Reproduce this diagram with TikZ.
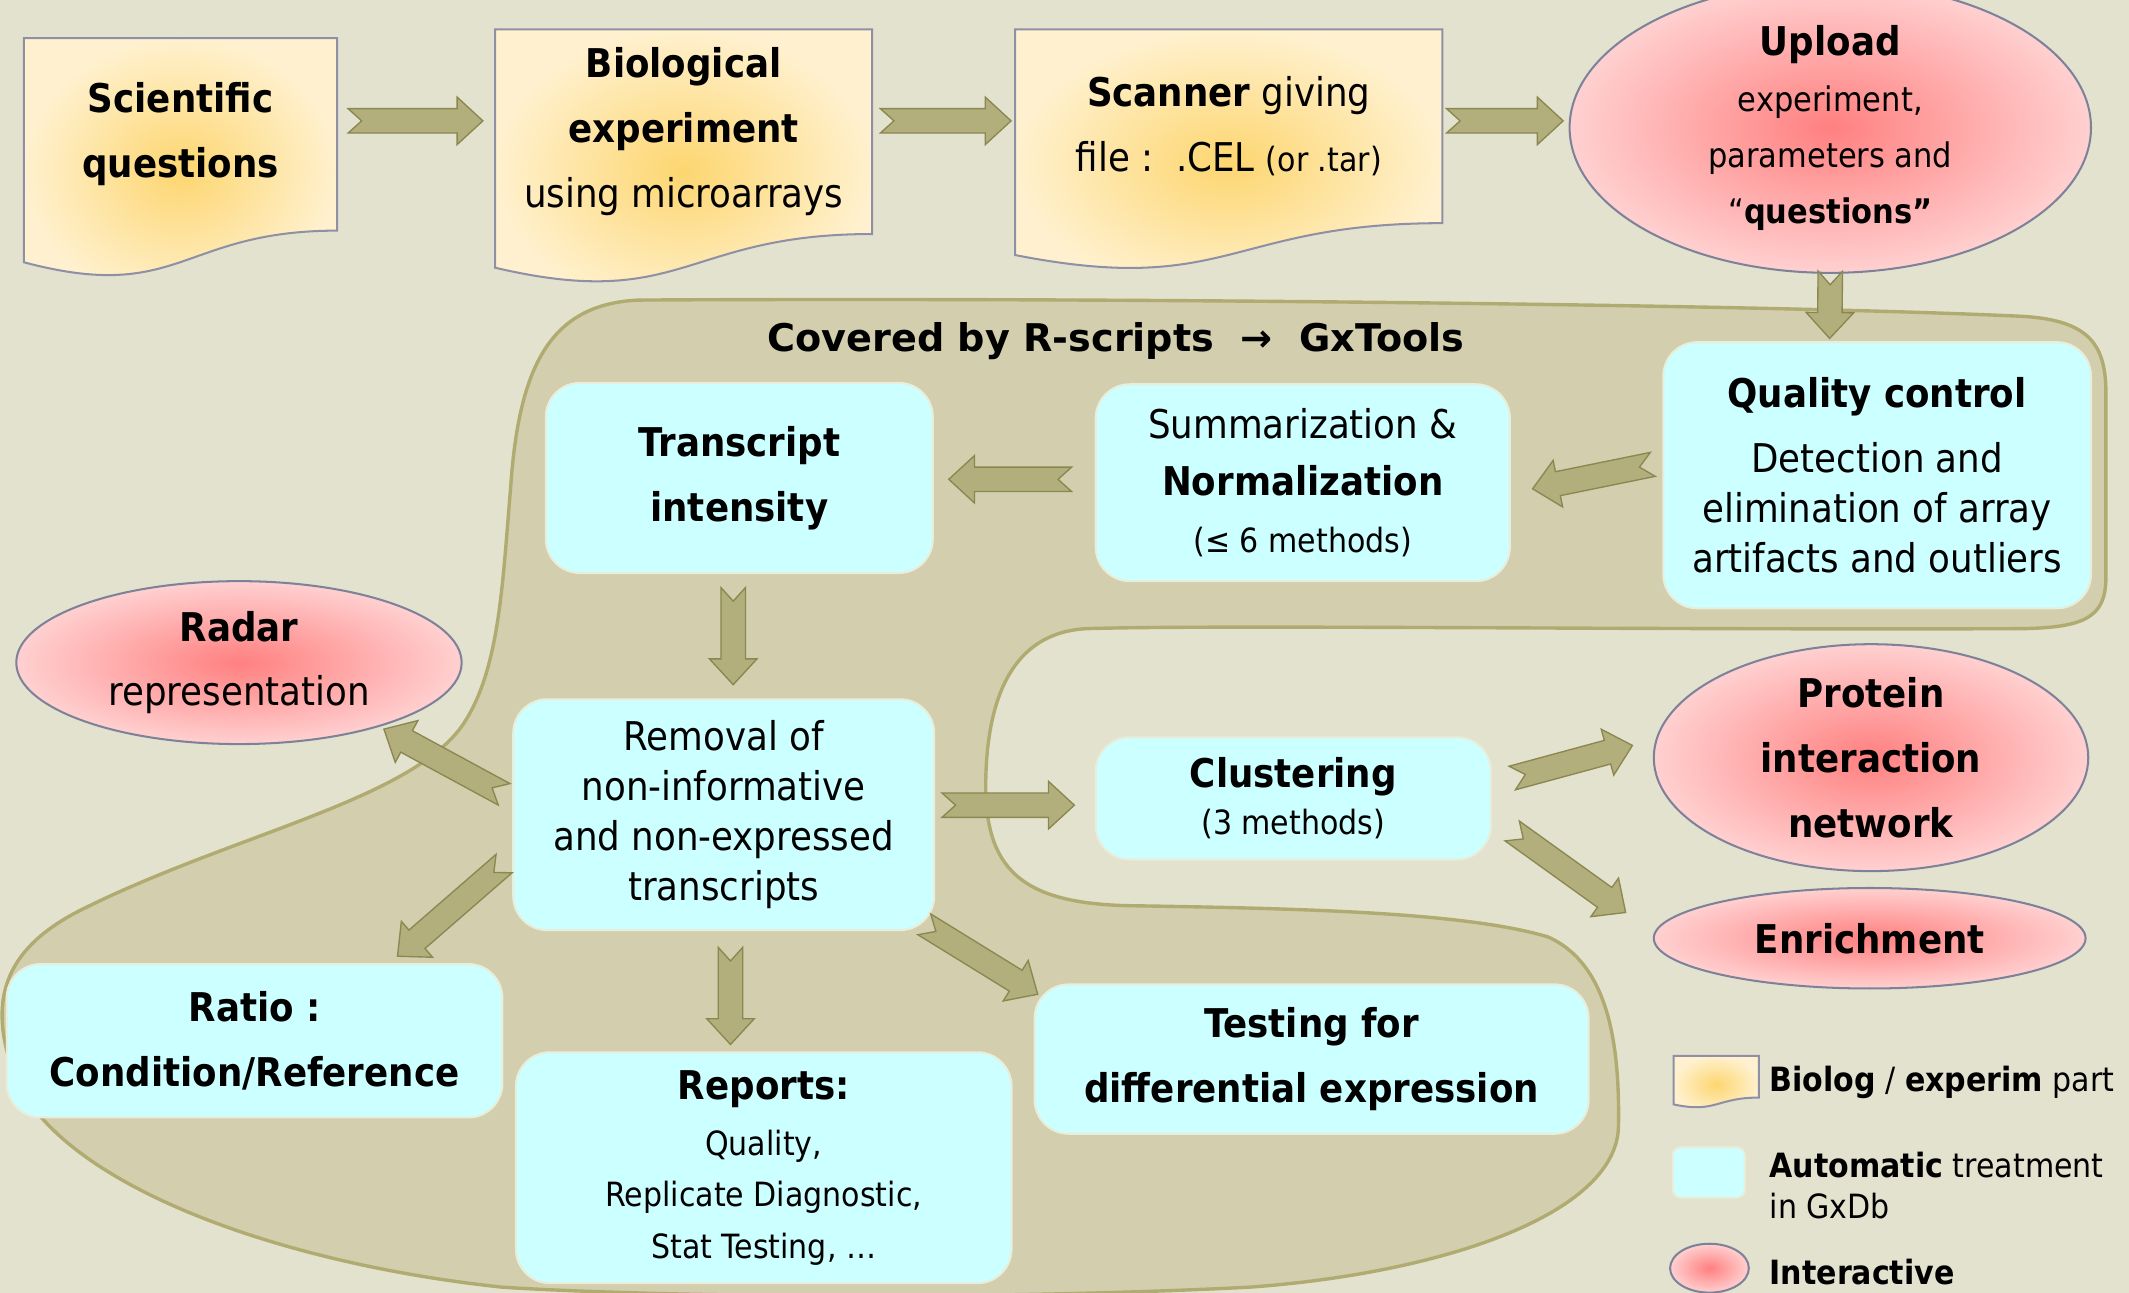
\documentclass[tikz,border=0pt]{standalone}
\usepackage{fontspec}
\setmainfont{DejaVu Sans Condensed}
\newfontfamily\titlefont{DejaVu Sans}
\usepackage{tikz}
\usetikzlibrary{positioning, shapes.geometric, calc}
\definecolor{gxBack}{RGB}{227,226,207}
\definecolor{gxBlob}{RGB}{210,206,174}
\definecolor{gxBlobEdge}{RGB}{176,171,112}
\definecolor{gxCyan}{RGB}{204,255,255}
\definecolor{gxCyanEdge}{RGB}{232,238,220}
\definecolor{gxArrow}{RGB}{178,175,124}
\definecolor{gxArrowEdge}{RGB}{138,136,80}
\definecolor{gxDocEdge}{RGB}{143,144,163}
\definecolor{gxYellow}{RGB}{253,214,112}
\definecolor{gxPale}{RGB}{255,241,207}
\definecolor{gxPink}{RGB}{255,128,128}
\definecolor{gxRose}{RGB}{255,208,208}
\definecolor{gxEllEdge}{RGB}{125,130,153}
\def\uu{0.2mm}
\pgfdeclarelayer{back}
\pgfdeclarelayer{shape}
\pgfsetlayers{back,shape,main}
\tikzset{
    base/.style={
        font=\fontsize{16.6}{27.2}\selectfont,
        align=center,
        inner sep=0pt,
        text=black
    },
    docnode/.style={
        base
    },
    docshape/.style={
        draw=gxDocEdge,
        line width=0.3mm,
        inner color=gxYellow,
        outer color=gxPale
    },
    autobox/.style={
        base,
        rectangle,
        rounded corners=5mm,
        fill=gxCyan,
        draw=gxCyanEdge,
        line width=0.3mm
    },
    interact/.style={
        base,
        ellipse,
        draw=gxEllEdge,
        line width=0.3mm,
        inner color=gxPink,
        outer color=gxRose
    },
    flow/.style={
        draw=gxArrowEdge,
        fill=gxArrow,
        line width=0.2mm,
        line join=miter
    },
    blob/.style={
        fill=gxBlob,
        draw=gxBlobEdge,
        line width=0.5mm
    },
    legend/.style={
        font=\fontsize{14}{17}\selectfont,
        align=left,
        anchor=west,
        inner sep=0pt
    }
}
% notched block arrow from #1 to #2
\newcommand{\fatarrow}[2]{%
  \coordinate (fa-a) at (#1);
  \coordinate (fa-b) at (#2);
  \coordinate (fa-n) at ($(fa-b)!19*\uu!(fa-a)$);
  \coordinate (fa-m) at ($(fa-a)!10*\uu!(fa-b)$);
  \draw[flow] ($(fa-a)!9*\uu!90:(fa-b)$) -- (fa-m) -- ($(fa-a)!9*\uu!-90:(fa-b)$)
    -- ($(fa-n)!9*\uu!-90:(fa-b)$) -- ($(fa-n)!17.5*\uu!-90:(fa-b)$) -- (fa-b)
    -- ($(fa-n)!17.5*\uu!90:(fa-b)$) -- ($(fa-n)!9*\uu!90:(fa-b)$) -- cycle;
}
% wavy document outline under a node
\newcommand{\docoutline}[1]{%
  \path[docshape] let \p1=(#1.north), \p2=(#1.south), \n1={\y1-\y2} in
    (#1.north west) -- (#1.north east) -- (#1.south east)
    .. controls (#1.south) and ([yshift=-0.381*\n1]#1.south)
    .. ([yshift=-0.1646*\n1]#1.south west) -- cycle;
}
\begin{document}
\begin{tikzpicture}[x=0.2mm, y=-0.2mm]
  \useasboundingbox (0,0) rectangle (1568,952);

  % Background and R-scripts area
  \begin{pgfonlayer}{back}
    \fill[gxBack] (0,0) rectangle (1568,952);
    \begin{scope}
      \clip (0,0) rectangle (1568,952);
      \path[blob] (470,221)
        .. controls (800,219) and (1300,224) .. (1490,233)
        .. controls (1540,236) and (1551,255) .. (1551,290)
        -- (1551,425)
        .. controls (1551,455) and (1535,462) .. (1490,463)
        .. controls (1200,464) and (900,460) .. (800,463)
        .. controls (745,466) and (727,515) .. (726,575)
        .. controls (725,640) and (752,665) .. (830,667)
        .. controls (960,669) and (1080,672) .. (1140,690)
        .. controls (1185,710) and (1193,770) .. (1192,830)
        .. controls (1190,895) and (1060,938) .. (920,948)
        .. controls (720,958) and (480,955) .. (370,948)
        .. controls (200,930) and (40,870) .. (10,790)
        .. controls (-8,740) and (0,700) .. (60,670)
        .. controls (170,615) and (300,590) .. (340,535)
        .. controls (368,495) and (370,430) .. (376,360)
        .. controls (382,270) and (405,224) .. (470,221) -- cycle;
    \end{scope}
  \end{pgfonlayer}

  % Biological part
  \node[docnode, minimum width=230*\uu, minimum height=141*\uu] (sci) at (133,99)
    {\textbf{Scientific}\\\textbf{questions}};
  \node[docnode, minimum width=277*\uu, minimum height=150*\uu] (bio) at (503.5,97)
    {\textbf{Biological}\\\textbf{experiment}\\using microarrays};
  \node[docnode, minimum width=314*\uu, minimum height=142*\uu] (scan) at (905,93)
    {\textbf{Scanner} giving\\file :~~.CEL {\fontsize{14}{27}\selectfont(or .tar)}};
  \node[interact, minimum width=384*\uu, minimum height=172*\uu,
        font=\fontsize{14.2}{23.5}\selectfont] (upload) at (1348,94)
    {{\fontsize{16.6}{23.5}\selectfont\textbf{Upload}}\\experiment,\\parameters and\\“\textbf{questions”}};

  \begin{pgfonlayer}{shape}
    \docoutline{sci}
    \docoutline{bio}
    \docoutline{scan}
  \end{pgfonlayer}

  % Automatic part
  \node[font={\titlefont\fontsize{16}{19}\selectfont\bfseries}] (covered) at (822,251)
    {Covered by R-scripts~~→~~GxTools};
  \node[autobox, minimum width=315*\uu, minimum height=196*\uu,
        font=\fontsize{16.6}{21}\selectfont] (qc) at (1382.5,350)
    {\textbf{Quality control}\\[6pt]Detection and\\elimination of array\\artifacts and outliers};
  \node[autobox, minimum width=305*\uu, minimum height=145*\uu,
        font=\fontsize{16.6}{24}\selectfont] (sum) at (959.5,355.5)
    {Summarization \&\\\textbf{Normalization}\\{\fontsize{14}{24}\selectfont(≤ 6 methods)}};
  \node[autobox, minimum width=285*\uu, minimum height=140*\uu] (trans) at (544.5,352)
    {\textbf{Transcript}\\\textbf{intensity}};
  \node[autobox, minimum width=310*\uu, minimum height=170*\uu,
        font=\fontsize{16.6}{21}\selectfont] (removal) at (533,600)
    {Removal of\\non-informative\\and non-expressed\\transcripts};
  \node[autobox, minimum width=365*\uu, minimum height=113*\uu] (ratio) at (187.5,766.5)
    {\textbf{Ratio :}\\\textbf{Condition/Reference}};
  \node[autobox, minimum width=365*\uu, minimum height=170*\uu,
        font=\fontsize{14}{21.5}\selectfont] (reports) at (562.5,860)
    {{\fontsize{16.6}{21.5}\selectfont\textbf{Reports:}}\\[2pt]Quality,\\Replicate Diagnostic,\\Stat Testing, …};
  \node[autobox, minimum width=408*\uu, minimum height=110*\uu] (testing) at (966,780)
    {\textbf{Testing for}\\\textbf{differential expression}};
  \node[autobox, minimum width=291*\uu, minimum height=90*\uu,
        font=\fontsize{16.6}{19.8}\selectfont] (clust) at (952.5,588)
    {\textbf{Clustering}\\{\fontsize{14}{19.8}\selectfont(3 methods)}};

  % Interactive part
  \node[interact, minimum width=328*\uu, minimum height=120*\uu] (radar) at (176,488)
    {\textbf{Radar}\\representation};
  \node[interact, minimum width=320*\uu, minimum height=152*\uu] (protein) at (1378,558)
    {\textbf{Protein}\\\textbf{interaction}\\\textbf{network}};
  \node[interact, minimum width=318*\uu, minimum height=74*\uu] (enrich) at (1377,691)
    {\textbf{Enrichment}};

  % Arrows
  \fatarrow{$(sci.east)+(8,-10)$}{$(bio.west)+(-9,-8)$}
  \fatarrow{$(bio.east)+(6,-8)$}{$(scan.west)+(-3,-4)$}
  \fatarrow{$(scan.east)+(3,-4)$}{$(upload.west)+(-4,-5)$}
  \fatarrow{$(upload.south)+(0,-2)$}{$(qc.north)+(-35,-2)$}
  \fatarrow{$(qc.west)+(-7,-8)$}{$(sum.east)+(16,4.5)$}
  \fatarrow{$(sum.west)+(-17,-2.5)$}{$(trans.east)+(11,1)$}
  \fatarrow{$(trans.south)+(-4.5,10)$}{$(removal.north)+(7,-10)$}
  \fatarrow{$(removal.west)+(-6,-15)$}{$(radar.east)+(-58,49)$}
  \fatarrow{$(removal.west)+(-6,36)$}{$(ratio.north east)+(-78,-5)$}
  \fatarrow{$(removal.south)+(5,12)$}{$(reports.north)+(-24.5,-5)$}
  \fatarrow{$(removal.south east)+(-8,-5)$}{$(testing.north west)+(3,8)$}
  \fatarrow{$(removal.east)+(5,-7)$}{$(clust.west)+(-15,5)$}
  \fatarrow{$(clust.east)+(15,-15)$}{$(protein.west)+(-15,-9)$}
  \fatarrow{$(clust.east)+(15,24)$}{$(enrich.west)+(-20,-19)$}

  % Legend
  \node[docnode, minimum width=62*\uu, minimum height=30*\uu] (legdoc) at (1264,793) {};
  \begin{pgfonlayer}{shape}
    \docoutline{legdoc}
  \end{pgfonlayer}
  \node[autobox, rounded corners=1.2mm, minimum width=53*\uu, minimum height=37*\uu] (legauto) at (1258.5,863.5) {};
  \node[interact, minimum width=58*\uu, minimum height=36*\uu] (legint) at (1259,934) {};
  \node[legend] (legdoctxt) at (1303,797) {\textbf{Biolog} / \textbf{experim} part};
  \node[legend] (legautotxt) at (1303,873) {\textbf{Automatic} treatment\\in GxDb};
  \node[legend] (leginttxt) at (1303,937) {\textbf{Interactive}};
\end{tikzpicture}
\end{document}
